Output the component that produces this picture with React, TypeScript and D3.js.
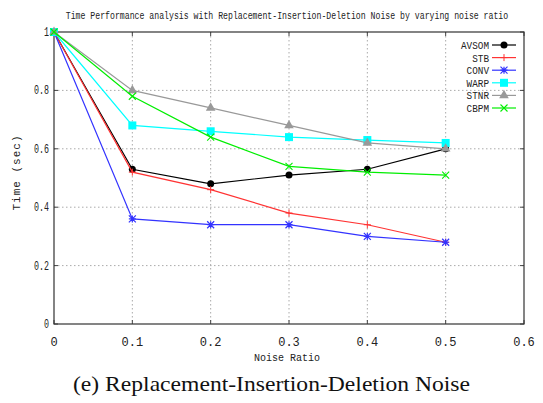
import React from "react";
import * as d3 from "d3";

const noiseRatios = [0, 0.1, 0.2, 0.3, 0.4, 0.5];
const avsom = [1, 0.53, 0.48, 0.51, 0.53, 0.6];
const stb = [1, 0.52, 0.46, 0.38, 0.34, 0.28];
const conv = [1, 0.36, 0.34, 0.34, 0.3, 0.28];
const warp = [1, 0.68, 0.66, 0.64, 0.63, 0.62];
const stnr = [1, 0.8, 0.74, 0.68, 0.62, 0.6];
const cbpm = [1, 0.78, 0.64, 0.54, 0.52, 0.51];
const seriesNames = ["AVSOM", "STB", "CONV", "WARP", "STNR", "CBPM"];
const xTicks = [0, 0.1, 0.2, 0.3, 0.4, 0.5, 0.6];
const yTicks = [0, 0.2, 0.4, 0.6, 0.8, 1];

const series = [
  { name: seriesNames[0], values: avsom, color: "#000000", marker: "circle" },
  { name: seriesNames[1], values: stb, color: "#ff3333", marker: "plus" },
  { name: seriesNames[2], values: conv, color: "#3333ff", marker: "star" },
  { name: seriesNames[3], values: warp, color: "#00ffff", marker: "square" },
  { name: seriesNames[4], values: stnr, color: "#999999", marker: "triangle" },
  { name: seriesNames[5], values: cbpm, color: "#00ee00", marker: "cross" },
];

const W = 543, H = 403;
const L = 54, R = 524, T = 32, B = 324;
const x = d3.scaleLinear().domain([0, 0.6]).range([L, R]);
const y = d3.scaleLinear().domain([0, 1]).range([B, T]);
const mono = "'Liberation Mono', 'DejaVu Sans Mono', monospace";

function Marker({ type, cx, cy, color }: { type: string; cx: number; cy: number; color: string }) {
  const s = 3.5;
  switch (type) {
    case "circle":
      return <circle cx={cx} cy={cy} r={3.5} fill={color} />;
    case "plus":
      return <path d={`M${cx - s},${cy}H${cx + s}M${cx},${cy - s}V${cy + s}`} stroke={color} strokeWidth={1} />;
    case "star":
      return (
        <path
          d={`M${cx - s},${cy - s}L${cx + s},${cy + s}M${cx - s},${cy + s}L${cx + s},${cy - s}M${cx},${cy - s}V${cy + s}M${cx - s},${cy}H${cx + s}`}
          stroke={color}
          strokeWidth={1.2}
        />
      );
    case "square":
      return <rect x={cx - 4} y={cy - 4} width={8} height={8} fill={color} />;
    case "triangle":
      return <path d={d3.symbol(d3.symbolTriangle, 40)() || ""} transform={`translate(${cx},${cy})`} fill={color} />;
    case "cross":
      return <path d={`M${cx - s},${cy - s}L${cx + s},${cy + s}M${cx - s},${cy + s}L${cx + s},${cy - s}`} stroke={color} strokeWidth={1.1} />;
  }
  return null;
}

export default function App() {
  const line = d3
    .line<number>()
    .x((_, i) => x(noiseRatios[i]))
    .y((v) => y(v));
  return (
    <svg width={W} height={H} style={{ position: "absolute", left: 0, top: 0, background: "#fff" }}>
      <rect width={W} height={H} fill="#fff" />
      <text transform="translate(287,19) scale(1,1.3)" x={0} y={0} fontFamily={mono} fontSize={8.2} textAnchor="middle" fill="#222">
        Time Performance analysis with Replacement-Insertion-Deletion Noise by varying noise ratio
      </text>
      {/* grid */}
      {xTicks.slice(1, -1).map((t) => (
        <line key={"gx" + t} x1={x(t)} x2={x(t)} y1={T} y2={B} stroke="#aaa" strokeDasharray="1.5,2.5" />
      ))}
      {yTicks.slice(1, -1).map((t) => (
        <line key={"gy" + t} x1={L} x2={R} y1={y(t)} y2={y(t)} stroke="#aaa" strokeDasharray="1.5,2.5" />
      ))}
      {/* ticks */}
      {xTicks.map((t) => (
        <g key={"tx" + t}>
          <line x1={x(t)} x2={x(t)} y1={B} y2={B - 4} stroke="#444" />
          <line x1={x(t)} x2={x(t)} y1={T} y2={T + 4} stroke="#444" />
          <text x={x(t)} y={B + 22} fontFamily={mono} fontSize={12} textAnchor="middle" fill="#222">
            {String(t)}
          </text>
        </g>
      ))}
      {yTicks.map((t) => (
        <g key={"ty" + t}>
          <line x1={L} x2={L + 4} y1={y(t)} y2={y(t)} stroke="#444" />
          <line x1={R} x2={R - 4} y1={y(t)} y2={y(t)} stroke="#444" />
          <text
            x={49}
            y={y(t) + 4}
            fontFamily={mono}
            fontSize={12}
            textAnchor="end"
            fill="#222"
            textLength={t === 0 || t === 1 ? 5 : 15}
            lengthAdjust="spacingAndGlyphs"
          >
            {String(t)}
          </text>
        </g>
      ))}
      <rect x={L} y={T} width={R - L} height={B - T} fill="none" stroke="#333" strokeWidth={1.2} />
      {/* series */}
      {series.map((s) => (
        <g key={s.name}>
          <path d={line(s.values) || ""} fill="none" stroke={s.color} strokeWidth={1.2} />
          {s.values.map((v, i) => (
            <Marker key={i} type={s.marker} cx={x(noiseRatios[i])} cy={y(v)} color={s.color} />
          ))}
        </g>
      ))}
      {/* legend */}
      {series.map((s, i) => {
        const ly = 45 + i * 12.6;
        return (
          <g key={"lg" + s.name}>
            <text x={489} y={ly + 4} fontFamily={mono} fontSize={11} textAnchor="end" fill="#222" textLength={s.name.length * 5.6} lengthAdjust="spacingAndGlyphs">
              {s.name}
            </text>
            <line x1={492} x2={516} y1={ly} y2={ly} stroke={s.color} strokeWidth={1.2} />
            <Marker type={s.marker} cx={504} cy={ly} color={s.color} />
          </g>
        );
      })}
      <text x={20} y={173} transform="rotate(-90 20 173)" fontFamily={mono} fontSize={11} textAnchor="middle" fill="#222" textLength={75} lengthAdjust="spacing">
        Time (sec)
      </text>
      <text x={287} y={361} fontFamily={mono} fontSize={10} textAnchor="middle" fill="#222" textLength={66} lengthAdjust="spacingAndGlyphs">
        Noise Ratio
      </text>
      <text x={271.5} y={391} fontFamily="'Liberation Serif', 'Times New Roman', serif" fontSize={22} textAnchor="middle" fill="#111" textLength={397} lengthAdjust="spacingAndGlyphs">
        (e) Replacement-Insertion-Deletion Noise
      </text>
    </svg>
  );
}
